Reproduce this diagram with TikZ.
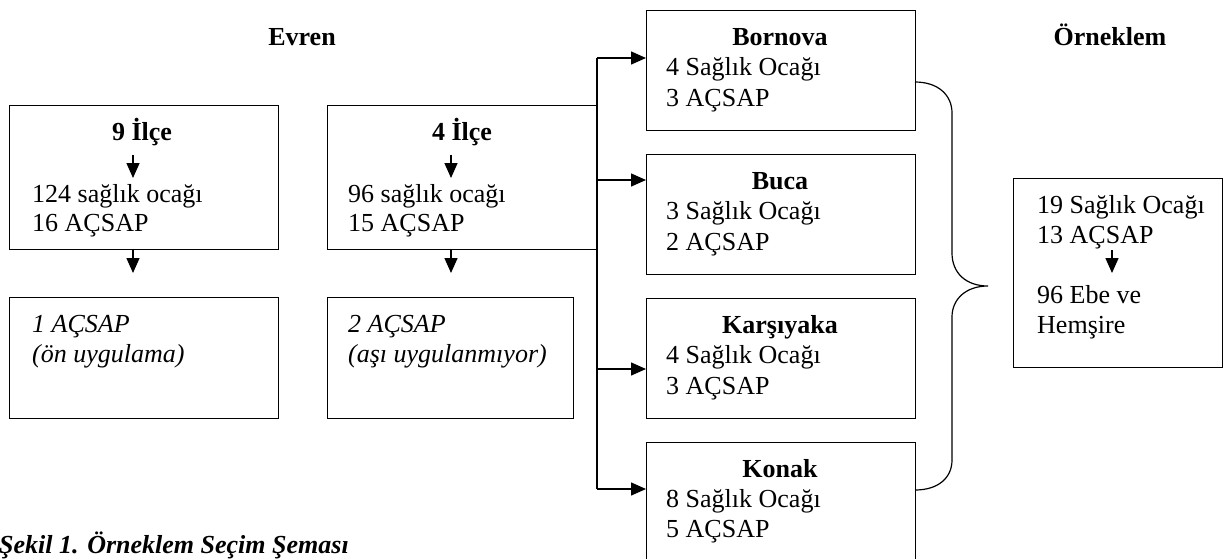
\documentclass[tikz,border=0pt]{standalone}
\usepackage{fontspec}
\setmainfont{Liberation Serif}
\usetikzlibrary{arrows.meta}
\begin{document}
\begin{tikzpicture}[x=1pt,y=-1pt,
  font=\fontsize{26}{30}\selectfont,
  box/.style={draw, line width=1.4pt, inner sep=0pt, anchor=north west},
  txt/.style={anchor=base west, inner sep=0pt},
  itxt/.style={anchor=base west, inner sep=0pt, font=\fontsize{26}{30}\selectfont\itshape},
  ttl/.style={anchor=base, inner sep=0pt, font=\fontsize{26}{30}\selectfont\bfseries},
  ln/.style={line width=1.4pt},
  arr/.style={line width=1.4pt, -{Triangle[length=15pt,width=13pt]}}]
\useasboundingbox (0,0) rectangle (1226,558);
\clip (0,0) rectangle (1226,558);

% headers
\node[ttl] (evren) at (302,45) {Evren};
\node[ttl] (orn) at (1110,45) {Örneklem};

% Box A
\node[box, minimum width=269pt, minimum height=144pt] (A) at (9,105) {};
\node[ttl] (a0) at (142,140) {9 İlçe};
\node[txt] (a1) at (32,202) {124 sağlık ocağı};
\node[txt] (a2) at (32,231) {16 AÇSAP};
\coordinate (ias) at (133,155);
\coordinate (iae) at (133,178);
\draw[arr] (ias) -- (iae);

% Box B
\node[box, minimum width=270pt, minimum height=144pt] (B) at (327,105) {};
\node[ttl] (b0) at (462,140) {4 İlçe};
\node[txt] (b1) at (348,202) {96 sağlık ocağı};
\node[txt] (b2) at (348,231) {15 AÇSAP};
\coordinate (ibs) at (451,155);
\coordinate (ibe) at (451,178);
\draw[arr] (ibs) -- (ibe);

% Box C
\node[box, minimum width=269pt, minimum height=121pt] (C) at (9,297) {};
\node[itxt] (c1) at (32,332) {1 AÇSAP};
\node[itxt] (c2) at (32,362) {(ön uygulama)};

% Box D
\node[box, minimum width=246pt, minimum height=121pt] (D) at (327,297) {};
\node[itxt] (d1) at (348,332) {2 AÇSAP};
\node[itxt] (d2) at (348,362) {(aşı uygulanmıyor)};

% down arrows
\coordinate (acE) at (133,273);
\coordinate (bdE) at (451,273);
\draw[arr] (acE |- A.south) -- (acE);
\draw[arr] (bdE |- B.south) -- (bdE);

% district boxes
\node[box, minimum width=269pt, minimum height=120pt] (bor) at (646,10) {};
\node[ttl] (bor0) at (780,45) {Bornova};
\node[txt] (bor1) at (666,75) {4 Sağlık Ocağı};
\node[txt] (bor2) at (666,106) {3 AÇSAP};

\node[box, minimum width=269pt, minimum height=120pt] (buc) at (646,154) {};
\node[ttl] (buc0) at (780,189) {Buca};
\node[txt] (buc1) at (666,219) {3 Sağlık Ocağı};
\node[txt] (buc2) at (666,250) {2 AÇSAP};

\node[box, minimum width=269pt, minimum height=120pt] (kar) at (646,298) {};
\node[ttl] (kar0) at (780,333) {Karşıyaka};
\node[txt] (kar1) at (666,363) {4 Sağlık Ocağı};
\node[txt] (kar2) at (666,394) {3 AÇSAP};

\node[box, minimum width=269pt, minimum height=120pt] (kon) at (646,442) {};
\node[ttl] (kon0) at (780,477) {Konak};
\node[txt] (kon1) at (666,507) {8 Sağlık Ocağı};
\node[txt] (kon2) at (666,537) {5 AÇSAP};

% trunk and branch arrows
\coordinate (j1) at (597,58);
\coordinate (j2) at (597,180);
\coordinate (j3) at (597,369);
\coordinate (j4) at (597,489);
\draw[ln] (j1) -- (j4);
\draw[arr] (j1) -- (j1 -| bor.west);
\draw[arr] (j2) -- (j2 -| buc.west);
\draw[arr] (j3) -- (j3 -| kar.west);
\draw[arr] (j4) -- (j4 -| kon.west);

% brace
\coordinate (brt) at (915,82);
\coordinate (brb) at (915,490);
\coordinate (tip) at (988,286);
\draw[line width=1.2pt] (brt) .. controls (938,82) and (952,95) .. (952,113)
  -- (952,253) .. controls (952,273) and (966,286) .. (tip)
  .. controls (966,286) and (952,299) .. (952,317)
  -- (952,460) .. controls (952,478) and (938,490) .. (brb);

% sample box
\node[box, minimum width=209pt, minimum height=189pt] (S) at (1013,178) {};
\node[txt] (s1) at (1037,213) {19 Sağlık Ocağı};
\node[txt] (s2) at (1037,243) {13 AÇSAP};
\coordinate (iss) at (1112,250);
\coordinate (ise) at (1112,273);
\draw[arr] (iss) -- (ise);
\node[txt] (s3) at (1037,303) {96 Ebe ve};
\node[txt] (s4) at (1037,333) {Hemşire};

% caption
\node[anchor=base west, inner sep=0pt, font=\fontsize{26}{30}\selectfont\bfseries\itshape] (cap) at (-1,553) {Şekil 1. Örneklem Seçim Şeması};
\end{tikzpicture}
\end{document}
